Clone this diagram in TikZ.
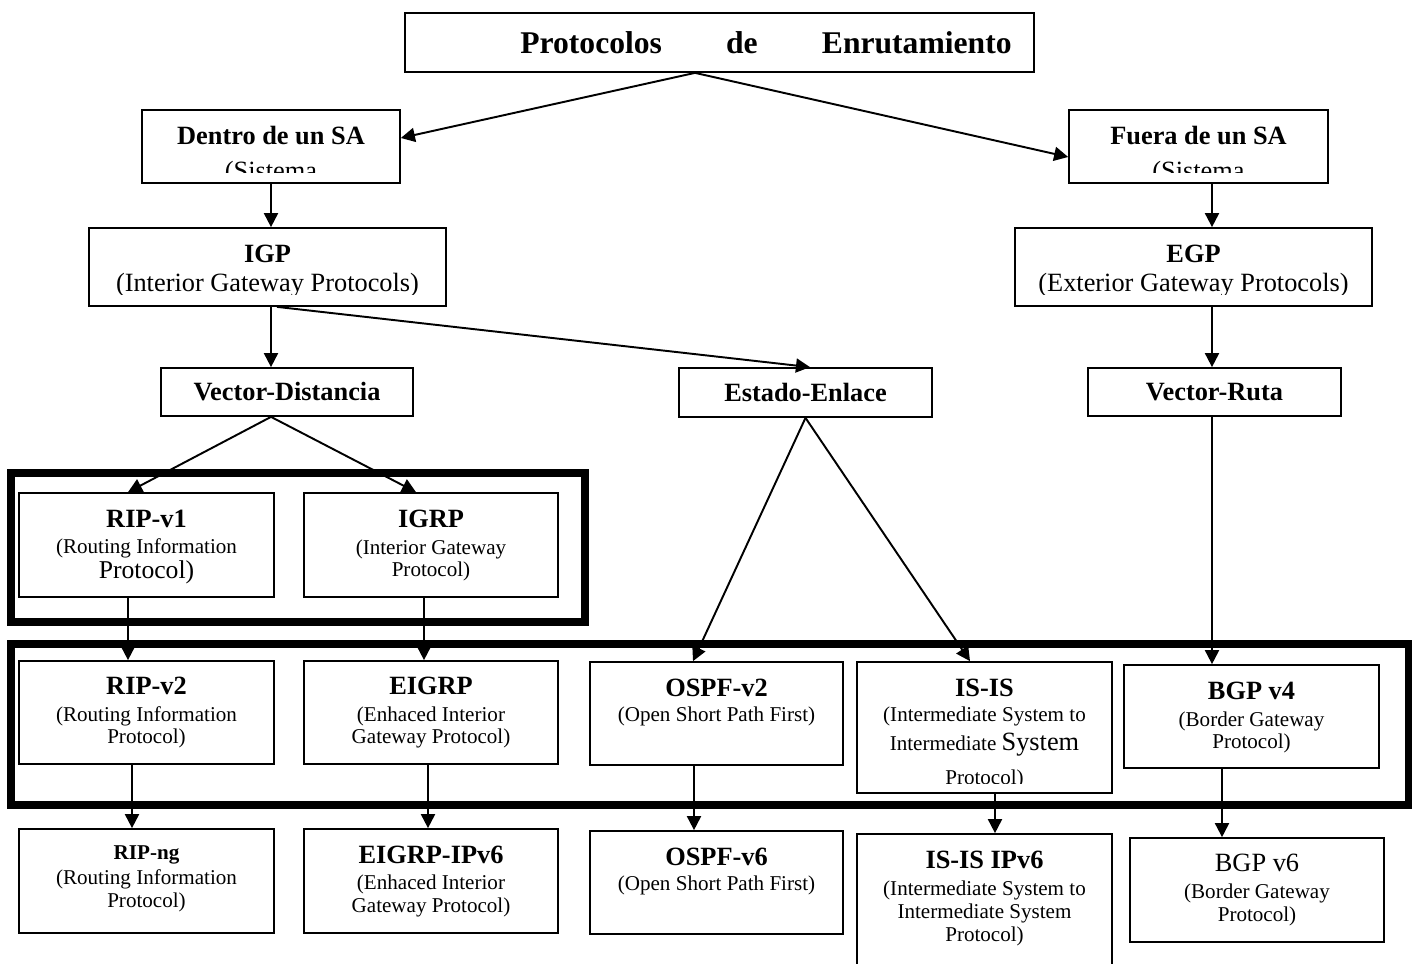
\documentclass[tikz,border=0pt]{standalone}
\usepackage{fontspec}
\setmainfont{Liberation Serif}
\usetikzlibrary{arrows.meta,positioning}
\newcommand\hd[1]{{\fontsize{15}{17}\selectfont\bfseries #1}}
\tikzset{box/.style={draw,line width=1pt,inner sep=0pt,minimum width=5.08cm,minimum height=2.06cm},
lbl/.style={align=center,inner sep=0pt,anchor=north,font=\fontsize{12}{13}\selectfont},
big/.style={font=\fontsize{15}{17}\selectfont},
arr/.style={line width=1.1pt,-{Triangle[length=8pt,width=8pt]}},
frame/.style={line width=4pt}}
\begin{document}
\begin{tikzpicture}[x=0.02cm,y=-0.02cm]
\useasboundingbox (0,0) rectangle (1415,963);
\draw[frame](11,473) rectangle (585,622);
\draw[frame](11,644) rectangle (1408,805);
\node[box,minimum width=12.58cm,minimum height=1.18cm] (top) at (719.5,42.5) {};
\node[anchor=base east,inner sep=0pt,font=\fontsize{18}{20}\selectfont\bfseries] (toptxt) at (1012,54)
{Protocolos\hspace{36.5pt}de\hspace{36.5pt}Enrutamiento};
\node[box,minimum width=5.16cm,minimum height=1.46cm] (dentro) at (271,146.5) {};
\node[box,minimum width=5.18cm,minimum height=1.46cm] (fuera) at (1198.5,146.5) {};
\node[box,minimum width=7.14cm,minimum height=1.56cm] (igp) at (267.5,267) {};
\node[box,minimum width=7.14cm,minimum height=1.56cm] (egp) at (1193.5,267) {};
\node[box,minimum width=5.04cm,minimum height=0.96cm] (vdist) at (287,392) {\hd{Vector-Distancia}};
\node[box,minimum width=5.06cm,minimum height=0.98cm] (estado) at (805.5,392.5) {\hd{Estado-Enlace}};
\node[box,minimum width=5.06cm,minimum height=0.96cm] (vruta) at (1214.5,392) {\hd{Vector-Ruta}};
\node[box,minimum width=5.1cm,minimum height=2.08cm] (ripv1) at (146.5,545) {};
\node[box,minimum height=2.08cm] (igrp) at (431,545) {};
\node[box,minimum width=5.1cm] (ripv2) at (146.5,712.5) {};
\node[box] (eigrp) at (431,712.5) {};
\node[box,minimum width=5.06cm] (ospfv2) at (716.5,713.5) {};
\node[box,minimum width=5.1cm,minimum height=2.62cm] (isis) at (984.5,727.5) {};
\node[box,minimum width=5.1cm] (bgpv4) at (1251.5,716.5) {};
\node[box,minimum width=5.1cm,minimum height=2.08cm] (ripng) at (146.5,881) {};
\node[box,minimum height=2.08cm] (eigrp6) at (431,881) {};
\node[box,minimum width=5.06cm] (ospfv6) at (716.5,882.5) {};
\node[box,minimum width=5.1cm,minimum height=2.64cm] (isis6) at (984.5,900) {};
\node[box,minimum height=2.08cm] (bgpv6) at (1257,890) {};
\begin{scope}
\clip (dentro.north west) rectangle ([yshift=0.22cm]dentro.south east);
\node[lbl,big,below=0.34cm of dentro.north] (dentrol) {\hd{Dentro de un SA}\\[2.6pt](Sistema};
\end{scope}
\begin{scope}
\clip (fuera.north west) rectangle ([yshift=0.22cm]fuera.south east);
\node[lbl,big,below=0.34cm of fuera.north] (fueral) {\hd{Fuera de un SA}\\[2.6pt](Sistema};
\end{scope}
\begin{scope}
\clip (igp.north west) rectangle ([yshift=0.24cm]igp.south east);
\node[lbl,big,below=0.344cm of igp.north] (igpl) {\hd{IGP}\\(Interior Gateway Protocols)};
\end{scope}
\begin{scope}
\clip (egp.north west) rectangle ([yshift=0.24cm]egp.south east);
\node[lbl,big,below=0.344cm of egp.north] (egpl) {\hd{EGP}\\(Exterior Gateway Protocols)};
\end{scope}
\begin{scope}
\clip (isis.north west) rectangle ([yshift=0.2cm]isis.south east);
\node[lbl,below=0.344cm of isis.north] (isisl) {\hd{IS-IS}\\[1.2pt](Intermediate System to\\[4pt]Intermediate {\fontsize{15}{17}\selectfont System}\\[6.3pt]Protocol)};
\end{scope}
\node[lbl,below=0.344cm of ripv1.north] (ripv1l) {\hd{RIP-v1}\\[2.3pt](Routing Information\\[1.2pt]{\fontsize{14.6}{16}\selectfont Protocol)}};
\node[lbl,below=0.344cm of igrp.north] (igrpl) {\hd{IGRP}\\[2.3pt](Interior Gateway\\Protocol)};
\node[lbl,below=0.324cm of ripv2.north] (ripv2l) {\hd{RIP-v2}\\[2.3pt](Routing Information\\Protocol)};
\node[lbl,below=0.324cm of eigrp.north] (eigrpl) {\hd{EIGRP}\\[2.3pt](Enhaced Interior\\Gateway Protocol)};
\node[lbl,below=0.344cm of ospfv2.north] (ospfv2l) {\hd{OSPF-v2}\\[1.2pt](Open Short Path First)};
\node[lbl,below=0.344cm of bgpv4.north] (bgpv4l) {\hd{BGP v4}\\[2.3pt](Border Gateway\\Protocol)};
\node[lbl,below=0.34cm of ripng.north] (ripngl) {{\bfseries RIP-ng}\\[1.2pt](Routing Information\\Protocol)};
\node[lbl,below=0.36cm of eigrp6.north] (eigrp6l) {\hd{EIGRP-IPv6}\\[1.7pt](Enhaced Interior\\Gateway Protocol)};
\node[lbl,below=0.36cm of ospfv6.north] (ospfv6l) {\hd{OSPF-v6}\\[1.2pt](Open Short Path First)};
\node[lbl,below=0.36cm of isis6.north] (isis6l) {\hd{IS-IS IPv6}\\[2.3pt](Intermediate System to\\Intermediate System\\Protocol)};
\node[lbl,below=0.34cm of bgpv6.north] (bgpv6l) {{\fontsize{15}{17}\selectfont BGP v6}\\[2.3pt](Border Gateway\\Protocol)};
\draw[arr]([xshift=-0.49cm]top.south)--([yshift=0.17cm]dentro.east);
\draw[arr]([xshift=-0.49cm]top.south)--([yshift=-0.21cm]fuera.west);
\draw[arr](dentro.south)--(dentro.south|-igp.north);
\draw[arr]([xshift=0.27cm]fuera.south)--([xshift=0.27cm]fuera.south|-egp.north);
\draw[arr]([xshift=0.07cm]igp.south)--([xshift=0.07cm]igp.south|-vdist.north);
\draw[arr]([xshift=0.19cm]igp.south)--([xshift=0.09cm]estado.north);
\draw[arr]([xshift=0.37cm]egp.south)--([xshift=0.37cm]egp.south|-vruta.north);
\draw[arr]([xshift=-0.32cm]vdist.south)--([xshift=-0.37cm]ripv1.north);
\draw[arr]([xshift=-0.32cm]vdist.south)--([xshift=-0.3cm]igrp.north);
\draw[arr](estado.south)--([xshift=-0.47cm]ospfv2.north);
\draw[arr](estado.south)--([xshift=-0.29cm]isis.north);
\draw[arr]([xshift=-0.05cm]vruta.south)--([xshift=-0.05cm]vruta.south|-bgpv4.north);
\draw[arr]([xshift=-0.37cm]ripv1.south)--([xshift=-0.37cm]ripv1.south|-ripv2.north);
\draw[arr]([xshift=-0.14cm]igrp.south)--([xshift=-0.14cm]igrp.south|-eigrp.north);
\draw[arr]([xshift=-0.29cm]ripv2.south)--([xshift=-0.29cm]ripv2.south|-ripng.north);
\draw[arr]([xshift=-0.06cm]eigrp.south)--([xshift=-0.06cm]eigrp.south|-eigrp6.north);
\draw[arr]([xshift=-0.45cm]ospfv2.south)--([xshift=-0.45cm]ospfv2.south|-ospfv6.north);
\draw[arr]([xshift=0.21cm]isis.south)--([xshift=0.21cm]isis.south|-isis6.north);
\draw[arr]([xshift=-0.59cm]bgpv4.south)--([xshift=-0.59cm]bgpv4.south|-bgpv6.north);
\end{tikzpicture}
\end{document}
